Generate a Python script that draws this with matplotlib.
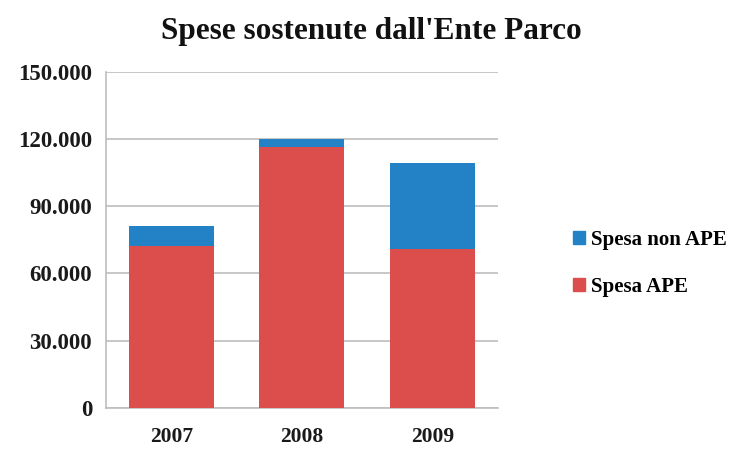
import matplotlib
matplotlib.use("Agg")
import matplotlib.pyplot as plt
from matplotlib.ticker import FuncFormatter
from matplotlib.patches import Patch

years = ["2007", "2008", "2009"]
spesa_ape = [72300, 116200, 70700]
spesa_non_ape = [9000, 3600, 38700]
yticks = [0, 30000, 60000, 90000, 120000, 150000]

red = "#DC4E4C"
blue = "#2381C6"
grid = "#BEBEBE"

plt.rcParams["font.family"] = ["Liberation Serif", "DejaVu Serif"]
fig = plt.figure(figsize=(7.29, 4.5), dpi=100)
ax = fig.add_axes([0.1454, 0.0933, 0.5376, 0.7474])

x = range(len(years))
ax.bar(x, spesa_ape, width=0.65, color=red, zorder=3)
ax.bar(x, spesa_non_ape, width=0.65, bottom=spesa_ape, color=blue, zorder=3)

ax.set_xlim(-0.5, 2.5)
ax.set_ylim(0, 150000)
ax.set_yticks(yticks)
ax.yaxis.set_major_formatter(FuncFormatter(lambda v, p: "0" if v == 0 else f"{int(v):,}".replace(",", ".")))
ax.set_xticks(list(x))
ax.set_xticklabels(years)
ax.yaxis.grid(True, color=grid, linewidth=1.2, zorder=0)
for s in ["top", "right"]:
    ax.spines[s].set_visible(False)
for s in ["left", "bottom"]:
    ax.spines[s].set_color(grid)
    ax.spines[s].set_linewidth(1.2)
ax.tick_params(axis="y", length=0, labelsize=16.5, colors="#1a1a1a", pad=10)
ax.tick_params(axis="x", length=0, labelsize=15.5, colors="#1a1a1a", pad=14)
for lab in ax.get_xticklabels() + ax.get_yticklabels():
    lab.set_fontweight("bold")

fig.text(0.509, 0.929, "Spese sostenute dall'Ente Parco", ha="center", va="center",
         fontsize=22.5, fontweight="bold", color="#111111")

handles = [Patch(color=blue, label="Spesa non APE"), Patch(color=red, label="Spesa APE")]
leg = fig.legend(handles=handles, loc="center left", bbox_to_anchor=(0.772, 0.415),
                 frameon=False, handlelength=0.55, handleheight=0.55, handletextpad=0.3,
                 labelspacing=1.3, borderpad=0, prop={"size": 15, "weight": "bold"})

fig.savefig("out.png", dpi=100)
